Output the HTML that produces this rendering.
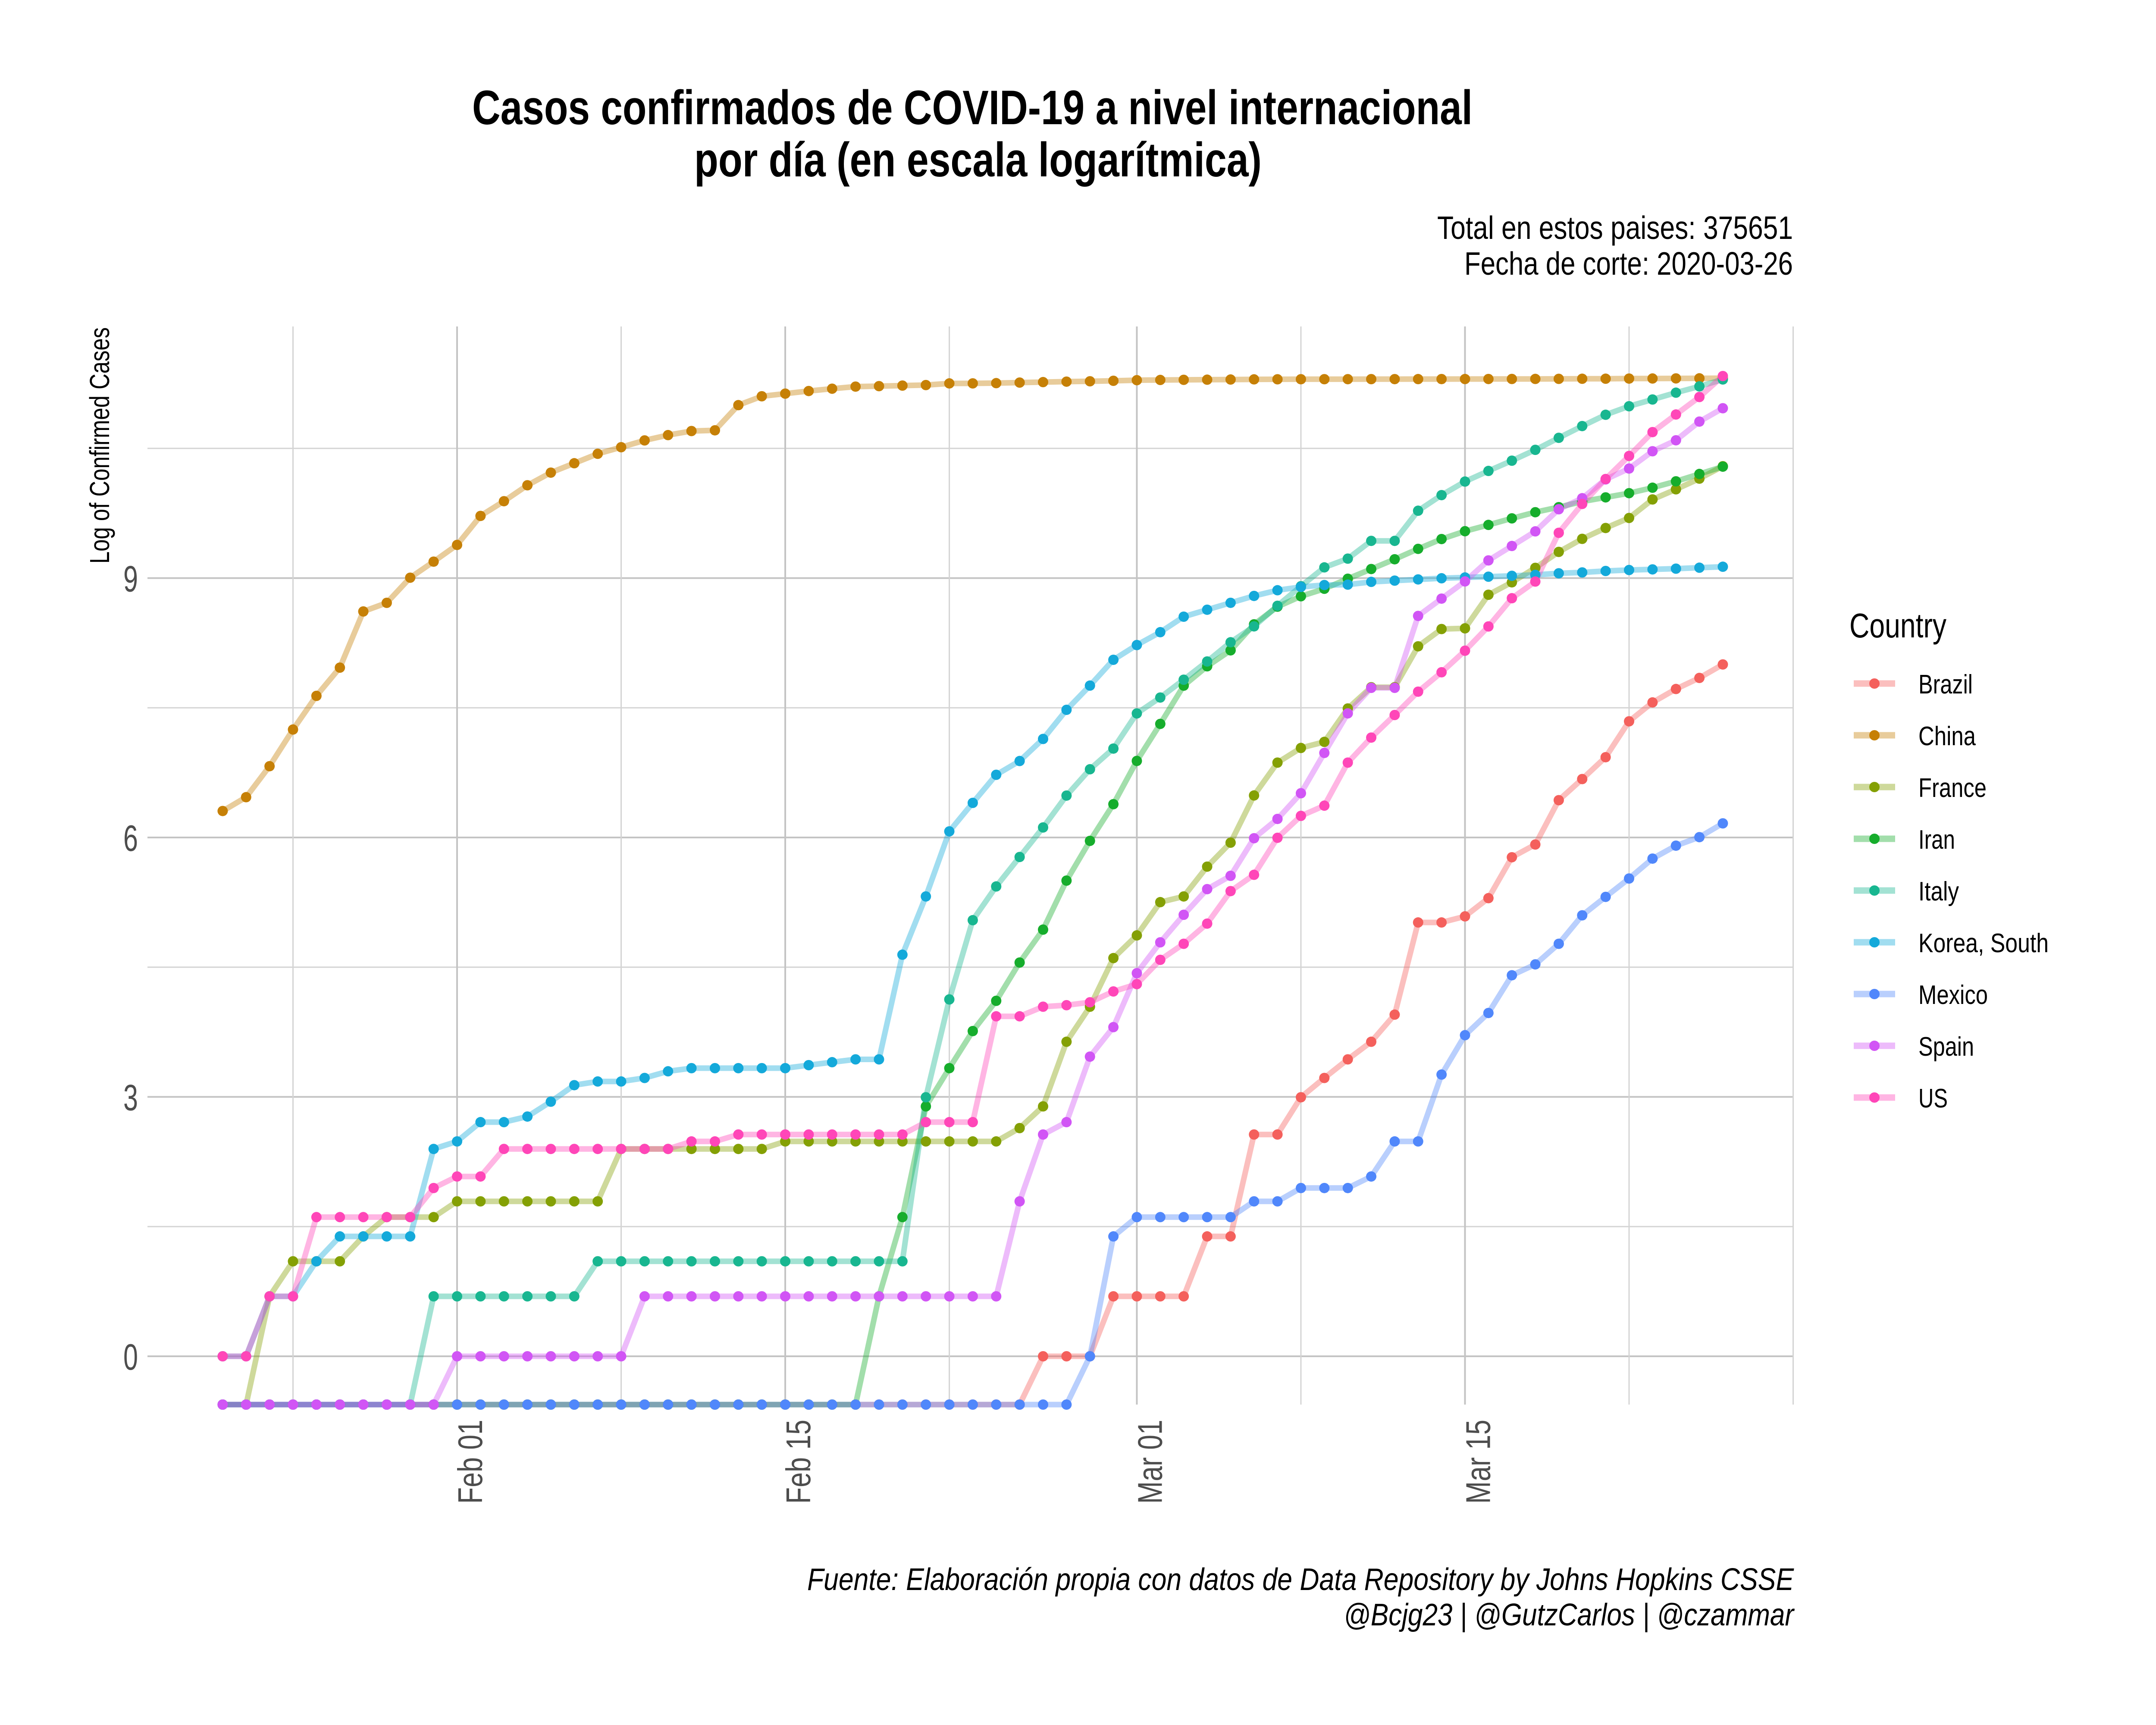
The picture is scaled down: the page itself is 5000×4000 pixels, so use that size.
<!DOCTYPE html>
<html><head><meta charset="utf-8"><style>
html,body{margin:0;padding:0;background:#fff;}
svg{display:block;}
text{font-family:"Liberation Sans",sans-serif;}
</style></head><body>
<svg id="chart" xmlns="http://www.w3.org/2000/svg" width="5000" height="4000" viewBox="0 0 5000 4000">
<rect x="0" y="0" width="5000" height="4000" fill="#fff"/>
<g id="grid"></g>
<g id="lines"></g>
<g id="points"></g>
<g id="axes"></g>
<text x="1095" y="288" font-size="112" font-weight="bold" textLength="2320" lengthAdjust="spacingAndGlyphs">Casos confirmados de COVID-19 a nivel internacional</text>
<text x="1610" y="409" font-size="112" font-weight="bold" textLength="1316" lengthAdjust="spacingAndGlyphs">por día (en escala logarítmica)</text>
<text x="3333" y="554" font-size="75" textLength="825" lengthAdjust="spacingAndGlyphs">Total en estos paises: 375651</text>
<text x="3396" y="637" font-size="75" textLength="762" lengthAdjust="spacingAndGlyphs">Fecha de corte: 2020-03-26</text>
<text transform="translate(253,1307) rotate(-90)" font-size="64" textLength="548" lengthAdjust="spacingAndGlyphs">Log of Confirmed Cases</text>
<text x="1872" y="3687" font-size="72" font-style="italic" textLength="2288" lengthAdjust="spacingAndGlyphs">Fuente: Elaboración propia con datos de Data Repository by Johns Hopkins CSSE</text>
<text x="3116" y="3769" font-size="72" font-style="italic" textLength="1044" lengthAdjust="spacingAndGlyphs">@Bcjg23 | @GutzCarlos | @czammar</text>
<text x="4289" y="1478" font-size="80" textLength="225" lengthAdjust="spacingAndGlyphs">Country</text>
<g id="legend"></g>
</svg>
<script>
// Data: cumulative confirmed cases, Jan 22 .. Mar 26 2020 (65 days)
const countries = ["Brazil","China","France","Iran","Italy","Korea, South","Mexico","Spain","US"];
const brazil = [0,0,0,0,0,0,0,0,0,0, 0,0,0,0,0,0,0,0,0,0,0,0,0,0,0,0,0,0,0,0,0,0,0,0,0,1,1,1,2, 2,2,2,4,4,13,13,20,25,31,38,52,151,151,162,200,321,372,621,793,1021,1546,1924,2247,2554,2985];
const china = [548,643,920,1406,2075,2877,5509,6087,8141,9802, 11891,16630,19716,23707,27440,30587,34110,36814,39829,42354,44386,44759,59895,66358,68413,70513,72434,74211,74619,75077,75550,77001,77022,77241,77754,78166,78600,78928,79356, 79932,80136,80261,80386,80537,80690,80770,80823,80860,80887,80921,80932,80945,80977,81003,81033,81058,81102,81156,81250,81305,81435,81498,81591,81661,81782];
const france = [0,0,2,3,3,3,4,5,5,5, 6,6,6,6,6,6,6,11,11,11,11,11,11,11,12,12,12,12,12,12,12,12,12,12,14,18,38,57,100, 130,191,204,288,380,656,959,1136,1219,1794,2293,2293,3681,4496,4532,6683,7715,9124,10970,12758,14463,16243,20123,22622,25600,29551];
const iran = [0,0,0,0,0,0,0,0,0,0, 0,0,0,0,0,0,0,0,0,0,0,0,0,0,0,0,0,0,2,5,18,28,43,61,95,139,245,388,593, 978,1501,2336,2922,3513,4747,5823,6566,7161,8042,9000,10075,11364,12729,13938,14991,16169,17361,18407,19644,20610,21638,23049,24811,27017,29406];
const italy = [0,0,0,0,0,0,0,0,0,2, 2,2,2,2,2,2,3,3,3,3,3,3,3,3,3,3,3,3,3,3,20,62,155,229,322,453,655,888,1128, 1694,2036,2502,3089,3858,4636,5883,7375,9172,10149,12462,12462,17660,21157,24747,27980,31506,35713,41035,47021,53578,59138,63927,69176,74386,80589];
const korea = [1,1,2,2,3,4,4,4,4,11, 12,15,15,16,19,23,24,24,25,27,28,28,28,28,28,29,30,31,31,104,204,433,602,833,977,1261,1766,2337,3150, 3736,4335,5186,5621,6088,6593,7041,7314,7478,7513,7755,7869,7979,8086,8162,8236,8320,8413,8565,8652,8799,8897,8961,9037,9137,9241];
const mexico = [0,0,0,0,0,0,0,0,0,0, 0,0,0,0,0,0,0,0,0,0,0,0,0,0,0,0,0,0,0,0,0,0,0,0,0,0,0,1,4, 5,5,5,5,5,6,6,7,7,7,8,12,12,26,41,53,82,93,118,164,203,251,316,367,405,475];
const spain = [0,0,0,0,0,0,0,0,0,0, 1,1,1,1,1,1,1,1,2,2,2,2,2,2,2,2,2,2,2,2,2,2,2,2,6,13,15,32,45, 84,120,165,222,259,400,500,673,1073,1695,2277,2277,5232,6391,7798,9942,11748,13910,17963,20410,25374,28768,35136,39885,49515,57786];
const us = [1,1,2,2,5,5,5,5,5,7, 8,8,11,11,11,11,11,11,11,11,12,12,13,13,13,13,13,13,13,13,15,15,15,51,51,57,58,60,68, 74,98,118,149,217,262,402,518,583,959,1281,1663,2179,2727,3499,4632,6421,7786,13680,19101,25493,33276,43847,53740,65778,83836];
const seriesValues = [brazil,china,france,iran,italy,korea,mexico,spain,us];
const yTicks = [0,3,6,9];
const yMinor = [1.5,4.5,7.5,10.5];
const xTickDays = [10,24,39,53];
const xTickLabels = ["Feb 01","Feb 15","Mar 01","Mar 15"];
const xMinorDays = [3,17,31,46,60,67];

const colors = ["#F4605C","#C68006","#84A004","#16AD2C","#18B690","#14A9DA","#5087FB","#D155F5","#FF46B8"];
const NS = "http://www.w3.org/2000/svg";
const PL = 342, PR = 4160, PT = 757, PB = 3257;
function xScale(d){ return 516.4 + 54.36*d; }
function yScale(v){ return v === -Infinity ? PB : 3145 - 200.5*v; }
function mk(tag, attrs, parent){ const e=document.createElementNS(NS,tag); for(const k in attrs) e.setAttribute(k,attrs[k]); parent.appendChild(e); return e; }

const grid = document.getElementById('grid');
yMinor.forEach(v=>{
  const l = mk('line',{x1:PL,x2:PR,y1:yScale(v),y2:yScale(v),stroke:"#d4d4d4","stroke-width":3},grid);
  
  
});
yTicks.forEach(v=>{
  const l = mk('line',{x1:PL,x2:PR,y1:yScale(v),y2:yScale(v),stroke:"#c4c4c4","stroke-width":4},grid);
  
  
});
xMinorDays.forEach(d=>{
  const l = mk('line',{x1:xScale(d),x2:xScale(d),y1:PT,y2:PB,stroke:"#d4d4d4","stroke-width":3},grid);
  
  
});
xTickDays.forEach(d=>{
  const l = mk('line',{x1:xScale(d),x2:xScale(d),y1:PT,y2:PB,stroke:"#c4c4c4","stroke-width":4},grid);
  
  
});

const axes = document.getElementById('axes');
yTicks.forEach(v=>{
  const t = mk('text',{x:320,y:yScale(v)+31,"font-size":85,fill:"#4d4d4d","text-anchor":"end",textLength:34,lengthAdjust:"spacingAndGlyphs"},axes);
  t.textContent = String(v);
  
  
});
xTickDays.forEach((d,i)=>{
  const t = mk('text',{transform:"translate("+(xScale(d)+58)+",3487) rotate(-90)","font-size":80,fill:"#4d4d4d",textLength:195,lengthAdjust:"spacingAndGlyphs"},axes);
  t.textContent = xTickLabels[i];
  
  
});

const linesG = document.getElementById('lines');
const ptsG = document.getElementById('points');
seriesValues.forEach((arr,si)=>{
  const pts = arr.map((c,d)=>[xScale(d), yScale(c>0?Math.log(c):-Infinity)]);
  const p = mk('polyline',{points:pts.map(p=>p[0].toFixed(1)+","+p[1].toFixed(1)).join(" "),fill:"none",stroke:colors[si],"stroke-width":13,"stroke-opacity":0.4,"stroke-linejoin":"round","stroke-linecap":"round"},linesG);
  
  
});
seriesValues.forEach((arr,si)=>{
  arr.forEach((c,d)=>{
    const cc = mk('circle',{cx:xScale(d),cy:yScale(c>0?Math.log(c):-Infinity),r:12,fill:colors[si]},ptsG);
    
    
  });
});

const legend = document.getElementById('legend');
const legendWidths = [126,133,158,85,94,302,161,129,68];
countries.forEach((name,i)=>{
  const y = 1585 + i*120;
  const g = mk('g',{},legend);
  
  
  mk('line',{x1:4299,x2:4395,y1:y,y2:y,stroke:colors[i],"stroke-width":15,"stroke-opacity":0.4},g);
  mk('circle',{cx:4347,cy:y,r:12,fill:colors[i]},g);
  const t = mk('text',{x:4449,y:y+23,"font-size":62,textLength:legendWidths[i],lengthAdjust:"spacingAndGlyphs"},g);
  t.textContent = name;
  
  
});
</script>
</body></html>
